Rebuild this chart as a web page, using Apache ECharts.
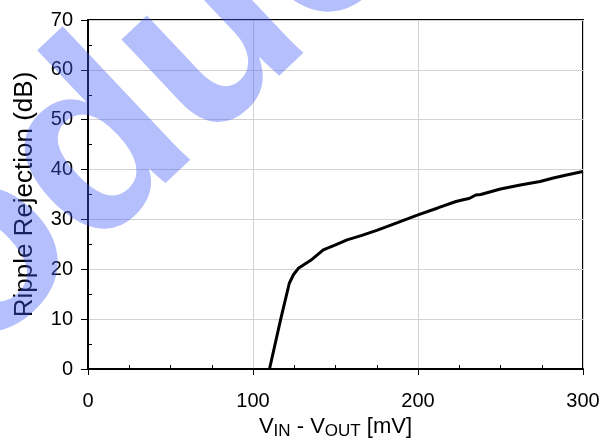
<!DOCTYPE html>
<html>
<head>
<meta charset="utf-8">
<script src="https://cdn.jsdelivr.net/npm/echarts@6/dist/echarts.min.js"></script>
<style>
html,body{margin:0;padding:0;background:#fff;}
#chart{width:611px;height:441px;}
</style>
</head>
<body>
<div id="chart"></div>
<script>
// Data
var vDiff = [110, 116.8, 122, 124.5, 127.5, 135, 142.6, 150, 157, 166, 175, 188, 200, 212, 223, 228, 231, 235, 238, 250, 262, 274, 282, 290, 300];
var ripple = [0, 10, 17.2, 18.9, 20.2, 21.8, 23.9, 24.9, 25.9, 26.8, 27.8, 29.4, 30.9, 32.3, 33.6, 34, 34.2, 34.9, 35, 36.1, 36.9, 37.6, 38.3, 38.9, 39.6];
var xTicks = [0, 100, 200, 300];
var yTicks = [0, 10, 20, 30, 40, 50, 60, 70];
var yTitle = 'Ripple Rejection (dB)';
var watermarkText = 'Product';

var pts = vDiff.map(function (v, i) { return [v, ripple[i]]; });
var FONT = 'Liberation Sans';

var chart = echarts.init(document.getElementById('chart'), null, {renderer: 'canvas'});
chart.setOption({
  animation: false,
  backgroundColor: '#fff',
  grid: {left: 88, right: 28, top: 20, bottom: 72, outerBoundsMode: 'none', containLabel: false,
    show: true, borderColor: '#000', borderWidth: 2, backgroundColor: 'transparent'},
  xAxis: [{
    type: 'value', min: xTicks[0], max: xTicks[xTicks.length - 1], interval: 100,
    axisLine: {show: true, onZero: false, lineStyle: {color: '#000', width: 2}},
    axisTick: {show: true, length: 6, lineStyle: {color: '#000', width: 1}},
    axisLabel: {color: '#000', fontSize: 20, fontFamily: FONT, margin: 22},
    splitLine: {show: true, lineStyle: {color: '#d2d2d2', width: 1}},
    name: '{v|V}{s|IN}{v| - V}{s|OUT}{v| [mV]}',
    nameLocation: 'middle', nameGap: 45,
    nameTextStyle: {
      fontFamily: FONT, color: '#000',
      rich: {
        v: {fontSize: 22, fontFamily: FONT, color: '#000'},
        s: {fontSize: 17, fontFamily: FONT, color: '#000', padding: [8, 0, 0, 0]}
      }
    }
  }, {
    type: 'value', min: xTicks[0], max: xTicks[xTicks.length - 1], interval: 100, position: 'bottom',
    axisLine: {show: false},
    axisTick: {show: false, inside: true},
    minorTick: {show: true, splitNumber: 4, length: 4, lineStyle: {color: '#000', width: 1}},
    axisLabel: {show: false},
    splitLine: {show: false}
  }],
  yAxis: [{
    type: 'value', min: yTicks[0], max: yTicks[yTicks.length - 1], interval: 10,
    axisLine: {show: true, onZero: false, lineStyle: {color: '#000', width: 2}},
    axisTick: {show: true, length: 7, lineStyle: {color: '#000', width: 1}},
    axisLabel: {color: '#000', fontSize: 20, fontFamily: FONT, margin: 15},
    splitLine: {show: true, lineStyle: {color: '#d2d2d2', width: 1}},
    name: yTitle, nameLocation: 'middle', nameGap: 50, nameRotate: 90,
    nameTextStyle: {fontSize: 26, fontFamily: FONT, color: '#000'}
  }, {
    type: 'value', min: yTicks[0], max: yTicks[yTicks.length - 1], interval: 10, position: 'left',
    axisLine: {show: false},
    axisTick: {show: false, inside: true},
    minorTick: {show: true, splitNumber: 2, length: 4, lineStyle: {color: '#000', width: 1}},
    axisLabel: {show: false},
    splitLine: {show: false}
  }],
  series: [{
    type: 'line', xAxisIndex: 0, yAxisIndex: 0, data: pts,
    showSymbol: false, symbol: 'none', smooth: false,
    lineStyle: {color: '#000', width: 3}, z: 5
  }],
  graphic: [{
    type: 'text', x: -268, y: 496, rotation: 0.757, z: 100, silent: true,
    style: {
      text: watermarkText, fontSize: 255, fontWeight: 'bold', fontFamily: FONT,
      fill: 'rgba(64,90,244,0.39)', align: 'left', verticalAlign: 'middle'
    }
  }]
});
</script>
</body>
</html>
